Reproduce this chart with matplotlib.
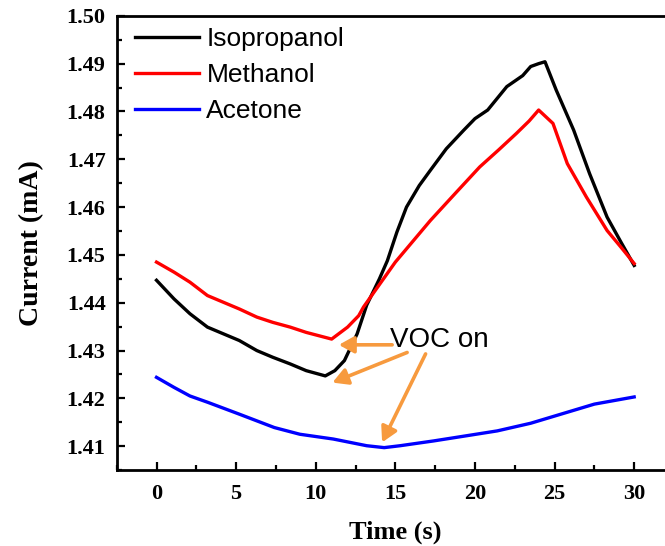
import matplotlib
matplotlib.use("Agg")
import matplotlib.pyplot as plt
from matplotlib.ticker import MultipleLocator

# Isopropanol response (time in s, current in mA)
t_iso = [0, 1.1, 2.1, 3.2, 4.2, 5.2, 6.3, 7.3, 8.4, 9.4, 10.6, 11.2, 11.8, 12.6, 13.2,
         14.0, 14.5, 15.1, 15.7, 16.5, 17.2, 18.2, 19.3, 20.0, 20.8, 22.0, 23.0, 23.5,
         24.0, 24.4, 25.1, 26.2, 27.2, 28.3, 29.2, 30.0]
i_iso = [1.4447, 1.4408, 1.4377, 1.4349, 1.4335, 1.4321, 1.4300, 1.4286, 1.4272, 1.4258,
         1.4247, 1.4258, 1.4279, 1.4335, 1.4395, 1.4450, 1.4488, 1.4548, 1.4600, 1.4645,
         1.4677, 1.4722, 1.4761, 1.4785, 1.4803, 1.4852, 1.4875, 1.4894, 1.4900, 1.4904,
         1.4845, 1.4761, 1.4670, 1.4579, 1.4525, 1.4478]

# Methanol response
t_met = [0, 1.1, 2.1, 3.2, 4.2, 5.2, 6.3, 7.3, 8.4, 9.4, 11.0, 12.0, 12.7, 13.0, 15.0,
         17.2, 18.8, 20.3, 21.5, 22.6, 23.4, 24.0, 24.9, 25.8, 27.0, 28.3, 29.2, 30.0]
i_met = [1.4485, 1.4464, 1.4443, 1.4415, 1.4401, 1.4387, 1.4370, 1.4359, 1.4349, 1.4338,
         1.4324, 1.4349, 1.4373, 1.4391, 1.4485, 1.4572, 1.4630, 1.4684, 1.4720, 1.4754,
         1.4780, 1.4803, 1.4775, 1.4691, 1.4621, 1.4551, 1.4515, 1.4482]

# Acetone response
t_ace = [0, 1.1, 2.1, 3.2, 5.2, 7.4, 9.0, 11.1, 13.2, 14.3, 15.3, 17.4, 19.5, 21.4,
         23.5, 25.4, 27.5, 30.0]
i_ace = [1.4244, 1.4223, 1.4205, 1.4192, 1.4167, 1.4139, 1.4125, 1.4115, 1.4101, 1.4097,
         1.4101, 1.4111, 1.4122, 1.4132, 1.4148, 1.4167, 1.4188, 1.4203]

series = [("Isopropanol", t_iso, i_iso, "black"),
          ("Methanol", t_met, i_met, "#ff0000"),
          ("Acetone", t_ace, i_ace, "#0000ff")]

# arrow tails and tips for the "VOC on" marks
arrow_tails = [(14.8, 1.4312), (15.74, 1.4296), (16.9, 1.4293)]
arrow_tips = [(11.45, 1.4312), (11.05, 1.4233), (14.17, 1.4108)]

serif = "Liberation Serif"
sans = "Liberation Sans"

fig = plt.figure(figsize=(6.65, 5.46), dpi=100)
ax = fig.add_axes([0.1755, 0.139, 0.838, 0.832])

for name, t, cur, col in series:
    ax.plot(t, cur, color=col, lw=2.4, label=name, solid_joinstyle="round")

for (x0, y0), (x1, y1) in zip(arrow_tails, arrow_tips):
    ax.annotate("", xy=(x1, y1), xytext=(x0, y0),
                arrowprops=dict(arrowstyle="-|>,head_length=0.9,head_width=0.5",
                                color="#f79a3e", lw=2.6, shrinkA=0, shrinkB=0))
ax.text(14.67, 1.4307, "VOC on", fontsize=20, family=sans, va="baseline", ha="left")

ax.set_xlim(-2.5, 32.5)
ax.set_ylim(1.405, 1.50)
ax.xaxis.set_major_locator(MultipleLocator(5))
ax.xaxis.set_minor_locator(MultipleLocator(2.5))
ax.yaxis.set_major_locator(MultipleLocator(0.01))
ax.yaxis.set_minor_locator(MultipleLocator(0.005))
ax.yaxis.set_major_formatter(plt.FormatStrFormatter("%.2f"))

ax.tick_params(which="both", direction="in", width=1.6)
ax.tick_params(which="major", length=6)
ax.tick_params(which="minor", length=3.5)
ax.tick_params(axis="y", pad=8)
ax.tick_params(axis="x", pad=10)
for lab in ax.get_xticklabels() + ax.get_yticklabels():
    lab.set_fontfamily(serif)
    lab.set_fontweight("bold")
    lab.set_fontsize(16)
for sp in ax.spines.values():
    sp.set_linewidth(2)

ax.set_xlabel("Time (s)", family=serif, weight="bold", fontsize=19, labelpad=12)
ax.set_ylabel("Current (mA)", family=serif, weight="bold", fontsize=20, labelpad=16)

ax.legend(loc="upper left", bbox_to_anchor=(0.0, 1.016), frameon=False,
          prop=dict(family=sans, size=19), handlelength=2.4, handletextpad=0.3,
          labelspacing=0.45, borderaxespad=0.3)

fig.savefig("out.png", dpi=100)
